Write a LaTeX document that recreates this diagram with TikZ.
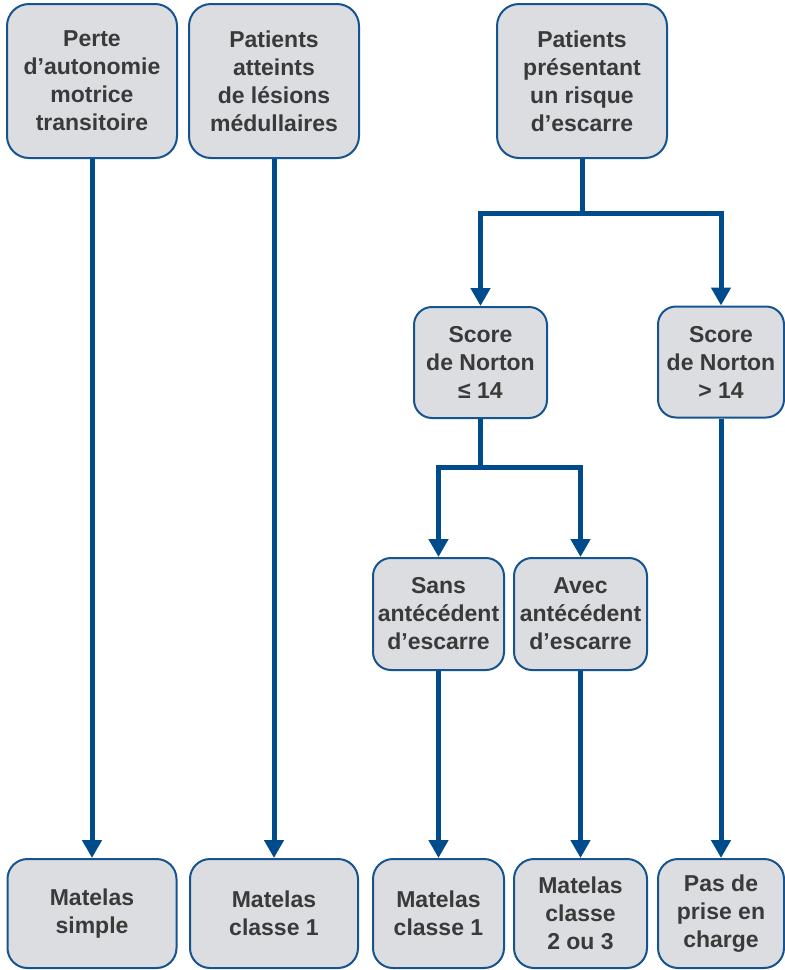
\documentclass[tikz,border=0pt]{standalone}
\usepackage{fontspec}
\setmainfont{Liberation Sans}
\usepackage{tikz}
\usetikzlibrary{positioning,calc,arrows.meta}

\definecolor{boxblue}{RGB}{22,84,145}
\definecolor{arrowblue}{RGB}{0,75,140}
\definecolor{boxgray}{RGB}{220,221,224}
\definecolor{textgray}{RGB}{58,58,58}

\tikzset{
  box/.style={draw=boxblue, line width=2pt, fill=boxgray, rounded corners=22pt,
    align=center, text=textgray, inner sep=0pt,
    font=\bfseries\fontsize{23}{28}\selectfont},
  bigbox/.style={box, minimum width=170pt, minimum height=154pt},
  smallbox/.style={box, rounded corners=18pt, minimum height=111pt},
  endbox/.style={box, rounded corners=20pt, minimum height=109pt},
  arr/.style={arrowblue, line width=5pt, -{Triangle[width=19pt,length=18pt]}},
  link/.style={arrowblue, line width=5pt}
}

\begin{document}
\begin{tikzpicture}[x=1pt,y=-1pt]
      \useasboundingbox (0,0) rectangle (785,970);

      % top row
      \node[bigbox] (perte) at (92, 81) {Perte\\d’autonomie\\motrice\\transitoire};
      \node[bigbox] (lesion) at (274, 81) {Patients\\atteints\\de lésions\\médullaires};
      \node[bigbox] (risque) at (582, 81) {Patients\\présentant\\un risque\\d’escarre};

      % Norton scores
      \node[smallbox, minimum width=133pt] (nlow) at (480.5, 362.5) {Score\\de Norton\\≤ 14};
      \node[smallbox, minimum width=126pt] (nhigh) at (721, 362) {Score\\de Norton\\> 14};

      % history
      \node[smallbox, minimum width=131pt, minimum height=112pt] (sans) at (438.5, 614) {Sans\\antécédent\\d’escarre};
      \node[smallbox, minimum width=133pt, minimum height=112pt] (avec) at (580.5, 614) {Avec\\antécédent\\d’escarre};

      % bottom row
      \node[endbox, minimum width=169pt] (simple) at (92, 913.5) {Matelas\\simple};
      \node[endbox, minimum width=168pt] (classeA) at (274, 913.5) {Matelas\\classe 1};
      \node[endbox, minimum width=131pt] (classeB) at (438.5, 913.5) {Matelas\\classe 1};
      \node[endbox, minimum width=133pt] (classeC) at (580.5, 913.5) {Matelas\\classe\\2 ou 3};
      \node[endbox, minimum width=126pt] (nocare) at (721, 913.5) {Pas de\\prise en\\charge};

      \coordinate (fork1) at (582, 213);
      \coordinate (fork2) at (480.5, 467);

      \draw[arr] (perte) -- (simple);
      \draw[arr] (lesion) -- (classeA);

      \draw[link] (risque) -- (fork1);
      \draw[arr] (fork1) -| (nlow);
      \draw[arr] (fork1) -| (nhigh);

      \draw[link] (nlow) -- (fork2);
      \draw[arr] (fork2) -| (sans);
      \draw[arr] (fork2) -| (avec);

      \draw[arr] (sans) -- (classeB);
      \draw[arr] (avec) -- (classeC);
      \draw[arr] (nhigh) -- (nocare);
    \end{tikzpicture}
\end{document}
